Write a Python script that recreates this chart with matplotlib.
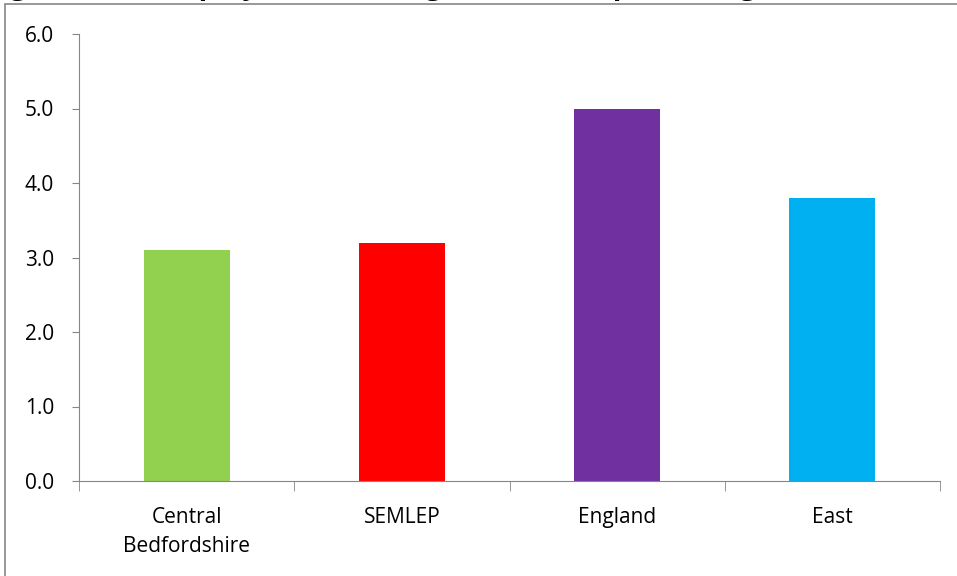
import matplotlib
matplotlib.use("Agg")
import matplotlib.pyplot as plt
from matplotlib.patches import Rectangle

categories = ["Central\nBedfordshire", "SEMLEP", "England", "East"]
values = [3.1, 3.2, 5.0, 3.8]
colors = ["#92D050", "#FF0000", "#7030A0", "#00B0F0"]
yticks = [0.0, 1.0, 2.0, 3.0, 4.0, 5.0, 6.0]
title = "Figure 1: Unemployment rate aged 16-64, as percentage"

plt.rcParams["font.family"] = ["Open Sans", "DejaVu Sans"]
AXC = "#868686"

fig = plt.figure(figsize=(9.57, 5.76), dpi=100)
ax = fig.add_axes([79 / 957, 1 - 481 / 576, (940 - 79) / 957, (481 - 34) / 576])

x = range(len(categories))
ax.bar(x, values, width=0.4, color=colors)
ax.set_xlim(-0.5, len(categories) - 0.5)
ax.set_ylim(0, 6)
ax.set_yticks(yticks)
ax.set_yticklabels([f"{v:.1f}" for v in yticks], fontsize=15)
ax.set_xticks(list(x))
ax.set_xticklabels(categories, fontsize=15, linespacing=1.45)
ax.tick_params(axis="x", length=0, pad=19)
ax.tick_params(axis="y", length=5, color=AXC, pad=13)
# category boundary ticks on x axis
ax.set_xticks([i - 0.5 for i in range(len(categories) + 1)], minor=True)
ax.tick_params(axis="x", which="minor", length=7, color=AXC, direction="out")
for s in ["top", "right"]:
    ax.spines[s].set_visible(False)
for s in ["left", "bottom"]:
    ax.spines[s].set_color(AXC)

# outer chart border
fig.patches.append(Rectangle((5 / 957, -0.05), 1.0, 1 - 4 / 576 + 0.05,
                             transform=fig.transFigure, fill=False,
                             edgecolor=AXC, lw=1.2))
# title, mostly cropped off the top like the reference
fig.text(-14 / 957, 1 + 6 / 576, title, fontsize=20.5, fontweight="bold",
         va="baseline", ha="left")

fig.savefig("out.png", dpi=100)
